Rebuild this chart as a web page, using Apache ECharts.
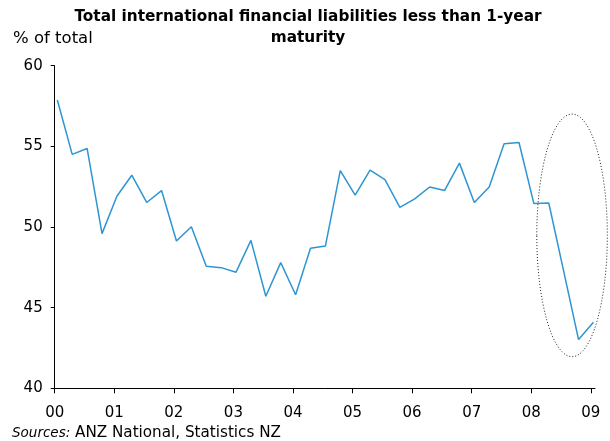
<!DOCTYPE html>
<html>
<head>
<meta charset="utf-8">
<script src="https://cdn.jsdelivr.net/npm/echarts@6/dist/echarts.min.js"></script>
<style>
html,body{margin:0;padding:0;background:#fff;}
#c{width:610px;height:441px;}
</style>
</head>
<body>
<div id="c"></div>
<script>
// Quarterly observations, 2000 Q1 to 2009 Q1
var quarters = [
  '2000Q1','2000Q2','2000Q3','2000Q4','2001Q1','2001Q2','2001Q3','2001Q4',
  '2002Q1','2002Q2','2002Q3','2002Q4','2003Q1','2003Q2','2003Q3','2003Q4',
  '2004Q1','2004Q2','2004Q3','2004Q4','2005Q1','2005Q2','2005Q3','2005Q4',
  '2006Q1','2006Q2','2006Q3','2006Q4','2007Q1','2007Q2','2007Q3','2007Q4',
  '2008Q1','2008Q2','2008Q3','2008Q4','2009Q1'
];
var shareValues = [
  57.87, 54.50, 54.87, 49.59, 51.91, 53.21, 51.52, 52.26,
  49.13, 50.02, 47.56, 47.48, 47.20, 49.17, 45.71, 47.79,
  45.80, 48.68, 48.82, 53.50, 51.97, 53.52, 52.94, 51.22,
  51.74, 52.48, 52.26, 53.96, 51.52, 52.48, 55.16, 55.24,
  51.45, 51.49, 47.26, 43.02, 44.10
];
var yearTickLabels = ['00','01','02','03','04','05','06','07','08','09'];
var titleLines = ['Total international financial liabilities less than 1-year', 'maturity'];
var yUnitLabel = '% of total';
var sourceLabel = 'Sources:';
var sourceText = 'ANZ National, Statistics NZ';
// highlighted region (data coordinates): centre year offset, centre value, half-width (years), half-height (value)
var highlight = { cx: 8.685, cy: 49.48, rx: 0.592, ry: 7.52 };

function quarterPos(q) {
  var y = parseInt(q.slice(0, 4), 10) - 2000;
  var n = parseInt(q.slice(5), 10);
  return y + (n - 1) * 0.25 + 0.044;
}
var seriesData = quarters.map(function (q, i) { return [quarterPos(q), shareValues[i]]; });

var FONT = 'DejaVu Sans';
var chart = echarts.init(document.getElementById('c'), null, { renderer: 'canvas' });
chart.setOption({
  animation: false,
  backgroundColor: '#ffffff',
  grid: { left: 54.7, right: 15, top: 65.7, bottom: 52.7 },
  xAxis: {
    type: 'value', min: 0, max: 9.07, interval: 1,
    axisLine: { lineStyle: { color: '#000', width: 1 } },
    axisTick: { show: true, length: 5, lineStyle: { color: '#000' } },
    splitLine: { show: false },
    axisLabel: {
      fontFamily: FONT, fontSize: 15, color: '#000', margin: 17,
      showMaxLabel: false,
      formatter: function (v) { var k = Math.round(v); return (Math.abs(v - k) < 1e-6 && yearTickLabels[k] !== undefined) ? yearTickLabels[k] : ''; }
    }
  },
  yAxis: {
    type: 'value', min: 40, max: 60, interval: 5,
    axisLine: { show: true, lineStyle: { color: '#000', width: 1 } },
    axisTick: { show: true, length: 4, lineStyle: { color: '#000' } },
    splitLine: { show: false },
    axisLabel: { fontFamily: FONT, fontSize: 15, color: '#000', margin: 12 }
  },
  series: [{
    type: 'line', data: seriesData, showSymbol: false,
    lineStyle: { color: '#2e95d3', width: 1.5 }
  }]
});

function drawGraphics() {
  var c = chart.convertToPixel({ gridIndex: 0 }, [highlight.cx, highlight.cy]);
  var e = chart.convertToPixel({ gridIndex: 0 }, [highlight.cx + highlight.rx, highlight.cy + highlight.ry]);
  chart.setOption({
    graphic: [
      { type: 'ellipse', shape: { cx: c[0], cy: c[1], rx: Math.abs(e[0] - c[0]), ry: Math.abs(c[1] - e[1]) },
        style: { fill: 'none', stroke: '#222', lineWidth: 1, lineDash: [1, 2] }, z: 10 },
      { type: 'text', x: 308, y: 17, style: { text: titleLines[0], font: 'bold 15.3px "DejaVu Sans"', fill: '#000', textAlign: 'center', textVerticalAlign: 'middle' } },
      { type: 'text', x: 308, y: 38, style: { text: titleLines[1], font: 'bold 15.3px "DejaVu Sans"', fill: '#000', textAlign: 'center', textVerticalAlign: 'middle' } },
      { type: 'text', x: 13, y: 39, style: { text: yUnitLabel, font: '16.5px "DejaVu Sans"', fill: '#000', textAlign: 'left', textVerticalAlign: 'middle' } },
      { type: 'text', x: 12, y: 433, style: { text: sourceLabel, font: 'italic 13.5px "DejaVu Sans"', fill: '#000', textAlign: 'left', textVerticalAlign: 'middle' } },
      { type: 'text', x: 75, y: 433, style: { text: sourceText, font: '15.2px "DejaVu Sans"', fill: '#000', textAlign: 'left', textVerticalAlign: 'middle' } }
    ]
  });
}
drawGraphics();
</script>
</body>
</html>
